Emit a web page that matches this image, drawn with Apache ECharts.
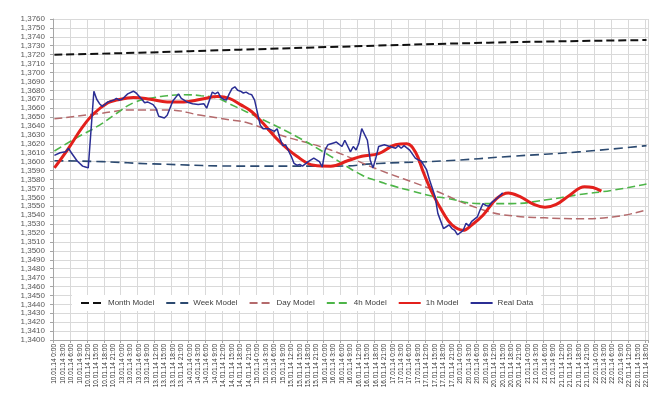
<!DOCTYPE html>
<html>
<head>
<meta charset="utf-8">
<script src="https://cdn.jsdelivr.net/npm/echarts@6/dist/echarts.min.js"></script>
<style>
html,body{margin:0;padding:0;background:#fff;}
#chart{width:650px;height:393px;}
</style>
</head>
<body>
<div id="chart"></div>
<script>
// ---- data ----
const days = ['10.01.14','13.01.14','14.01.14','15.01.14','16.01.14','17.01.14','20.01.14','21.01.14','22.01.14'];
const lastDayHours = 19; // 22.01.14 0:00 .. 18:00

const monthHours  = [0, 30, 66, 101, 154, 210];
const monthValues = [1.3720, 1.37222, 1.37256, 1.37289, 1.37334, 1.37364];

const weekHours  = [0, 17, 35, 70, 100, 115, 139, 162, 186, 210];
const weekValues = [1.3601, 1.3600, 1.35975, 1.3595, 1.3595, 1.3598, 1.3601, 1.3606, 1.3611, 1.3618];

const dayHours  = [0, 16, 28, 40, 52, 62, 69, 80, 98, 115, 133, 151, 163, 174, 186, 198, 210];
const dayValues = [1.3648, 1.3654, 1.3658, 1.3658, 1.3652, 1.3647, 1.3643, 1.3630, 1.3613, 1.3591, 1.3570, 1.3547, 1.3539, 1.3537, 1.3536, 1.3538, 1.3546];

const h4Hours  = [0, 8, 16, 22, 28, 34, 40, 46, 52, 58, 62, 74, 86, 98, 109, 115, 121, 127, 133, 139, 151, 162, 174, 186, 198, 210];
const h4Values = [1.3612, 1.3627, 1.3641, 1.3654, 1.3666, 1.3671, 1.3674, 1.3675, 1.3674, 1.3671, 1.3665, 1.3647, 1.3628, 1.3606, 1.3585, 1.3578, 1.3572, 1.3567, 1.3562, 1.3559, 1.3553, 1.3553, 1.3557, 1.3563, 1.3568, 1.3575];

const h1Hours  = [0, 5, 10, 14, 19, 22, 28, 34, 40, 46, 52, 58, 62, 66, 70, 74, 80, 86, 92, 98, 104, 109, 115, 121, 125, 128, 131, 134, 138, 141, 145, 148, 152, 157, 161, 165, 170, 174, 178, 183, 188, 191, 194];
const h1Values = [1.3593, 1.3615, 1.3639, 1.3654, 1.3666, 1.3669, 1.3672, 1.3670, 1.3667, 1.3667, 1.3670, 1.3673, 1.3671, 1.3664, 1.3656, 1.3643, 1.3622, 1.3606, 1.3596, 1.3595, 1.3601, 1.3606, 1.3609, 1.3619, 1.3620, 1.3611, 1.3587, 1.3565, 1.3542, 1.3529, 1.3523, 1.3529, 1.3540, 1.3559, 1.3565, 1.3561, 1.3552, 1.3549, 1.3552, 1.3563, 1.3572, 1.3571, 1.3567];

const realHours  = [0, 2, 4, 5, 6, 8, 10, 11, 12, 14, 15, 16, 17, 19, 21, 22, 23, 24, 26, 28, 29, 31, 32, 33, 35, 36, 37, 39, 40, 42, 44, 45, 47, 49, 51, 53, 54, 56, 57, 58, 59, 60, 61, 62, 63, 64, 65, 66, 67, 68, 69, 70, 71, 72, 73, 74, 76, 78, 79, 80, 81, 82, 84, 85, 86, 87, 88, 90, 92, 94, 95, 96, 97, 99, 100, 102, 103, 105, 106, 107, 108, 109, 111, 112, 113, 114, 115, 117, 119, 121, 122, 123, 124, 126, 128, 129, 130, 132, 133, 135, 136, 138, 139, 140, 141, 142, 143, 145, 146, 147, 148, 150, 151, 152, 153, 154, 155, 157, 158, 159];
const realValues = [1.3607, 1.3610, 1.3611, 1.3615, 1.3610, 1.3601, 1.3595, 1.3594, 1.3593, 1.3679, 1.3670, 1.3665, 1.3662, 1.3667, 1.3669, 1.3671, 1.3669, 1.3670, 1.3676, 1.3679, 1.3677, 1.3670, 1.3666, 1.3667, 1.3664, 1.3660, 1.3651, 1.3649, 1.3652, 1.3668, 1.3676, 1.3671, 1.3667, 1.3665, 1.3664, 1.3665, 1.3660, 1.3678, 1.3676, 1.3678, 1.3672, 1.3670, 1.3669, 1.3676, 1.3682, 1.3684, 1.3680, 1.3679, 1.3677, 1.3678, 1.3676, 1.3675, 1.3669, 1.3655, 1.3641, 1.3637, 1.3637, 1.3634, 1.3637, 1.3626, 1.3618, 1.3619, 1.3606, 1.3598, 1.3596, 1.3597, 1.3595, 1.3600, 1.3604, 1.3600, 1.3594, 1.3613, 1.3619, 1.3621, 1.3622, 1.3617, 1.3624, 1.3611, 1.3617, 1.3613, 1.3621, 1.3637, 1.3624, 1.3602, 1.3593, 1.3604, 1.3617, 1.3619, 1.3617, 1.3615, 1.3618, 1.3615, 1.3618, 1.3613, 1.3604, 1.3602, 1.3601, 1.3591, 1.3580, 1.3561, 1.3542, 1.3525, 1.3527, 1.3529, 1.3525, 1.3523, 1.3518, 1.3523, 1.3531, 1.3528, 1.3533, 1.3538, 1.3546, 1.3553, 1.3551, 1.3550, 1.3554, 1.3559, 1.3562, 1.3565];

// ---- build ----
const categories = [];
days.forEach((d, i) => {
  const n = (i === days.length - 1) ? lastDayHours : 24;
  for (let h = 0; h < n; h++) categories.push(d + ' ' + h + ':00');
});
const pairs = (hs, vs) => hs.map((h, i) => [h, vs[i]]);

const FONT = 'Liberation Sans';
const chart = echarts.init(document.getElementById('chart'), null, {renderer: 'canvas'});
chart.setOption({
  animation: false,
  backgroundColor: '#ffffff',
  textStyle: {fontFamily: FONT},
  grid: {left: 53, right: 1, top: 19, bottom: 53, containLabel: false},
  legend: {
    left: 72, top: 295,
    backgroundColor: '#ffffff',
    padding: [4, 8],
    itemWidth: 22, itemHeight: 8, itemGap: 11,
    itemStyle: {opacity: 0},
    textStyle: {fontFamily: FONT, fontSize: 8, color: '#404040'},
    data: ['Month Model', 'Week Model', 'Day Model', '4h Model', '1h Model', 'Real Data']
  },
  xAxis: {
    type: 'category',
    data: categories,
    boundaryGap: true,
    axisLine: {lineStyle: {color: '#A6A6A6', width: 1}},
    axisTick: {show: true, interval: 5, length: 3, lineStyle: {color: '#A6A6A6'}},
    axisLabel: {interval: 2, rotate: 90, fontSize: 6.5, color: '#333333', margin: 4, fontFamily: FONT},
    splitLine: {show: true, interval: 5, lineStyle: {color: '#D9D9D9', width: 1}}
  },
  yAxis: {
    type: 'value',
    min: 1.340, max: 1.376, interval: 0.001,
    axisLine: {show: true, lineStyle: {color: '#A6A6A6', width: 1}},
    axisTick: {show: true, length: 3, lineStyle: {color: '#A6A6A6'}},
    axisLabel: {
      fontSize: 8, color: '#595959', margin: 8, fontFamily: FONT,
      formatter: v => v.toFixed(4).replace('.', ',')
    },
    splitLine: {show: true, lineStyle: {color: '#D9D9D9', width: 1}}
  },
  series: [
    {name: 'Month Model', type: 'line', data: pairs(monthHours, monthValues), symbol: 'none', smooth: true,
     lineStyle: {color: '#111111', width: 2, type: [8, 4]}, itemStyle: {color: '#111111'}},
    {name: 'Week Model', type: 'line', data: pairs(weekHours, weekValues), symbol: 'none', smooth: true,
     lineStyle: {color: '#2C4A70', width: 1.6, type: [9, 5]}, itemStyle: {color: '#2C4A70'}},
    {name: 'Day Model', type: 'line', data: pairs(dayHours, dayValues), symbol: 'none', smooth: true,
     lineStyle: {color: '#B46A6C', width: 1.5, type: [8, 4]}, itemStyle: {color: '#B46A6C'}},
    {name: '4h Model', type: 'line', data: pairs(h4Hours, h4Values), symbol: 'none', smooth: true,
     lineStyle: {color: '#4DB548', width: 1.6, type: [8, 4]}, itemStyle: {color: '#4DB548'}},
    {name: '1h Model', type: 'line', data: pairs(h1Hours, h1Values), symbol: 'none', smooth: 0.4,
     lineStyle: {color: '#E3201C', width: 3}, itemStyle: {color: '#E3201C'}},
    {name: 'Real Data', type: 'line', data: pairs(realHours, realValues), symbol: 'none', smooth: false,
     lineStyle: {color: '#2B2E94', width: 1.5}, itemStyle: {color: '#2B2E94'}}
  ]
});
</script>
</body>
</html>
